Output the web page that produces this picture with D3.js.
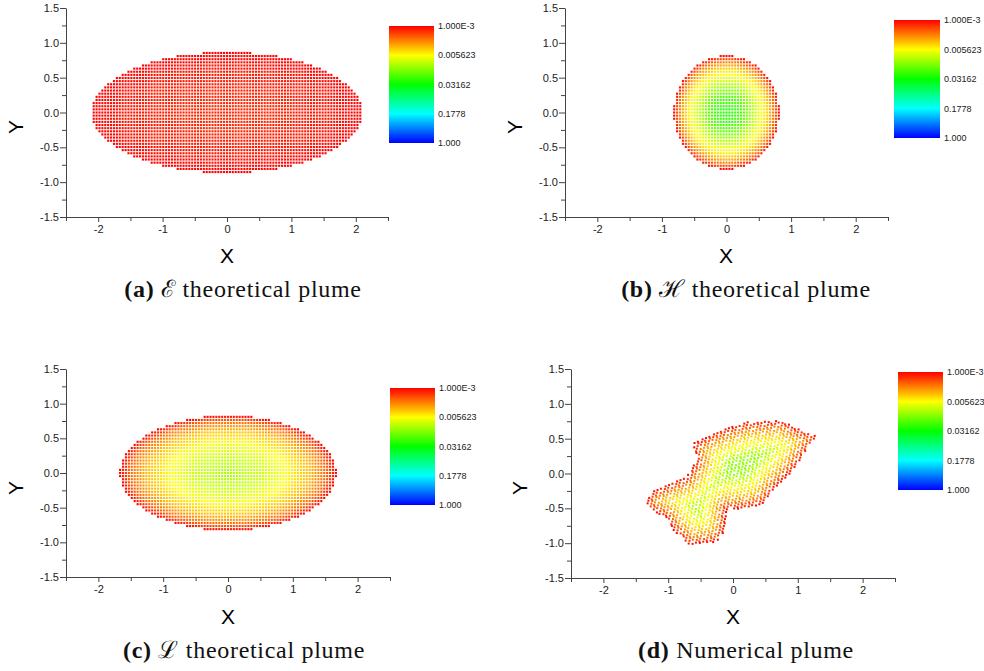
<!DOCTYPE html>
<meta charset="utf-8">
<style>
body { margin: 0; background: #fff; }
text { font-family: "Liberation Sans", Arial, sans-serif; }
.tick text { fill: #222; font-size: 11px; }
.domain, .tick line { stroke: #444; }
.caption { font-family: "Liberation Serif", "DejaVu Serif", serif; font-size: 24px; letter-spacing: 0.7px; fill: #111; }
</style>
<body>
<script src="https://cdn.jsdelivr.net/npm/d3@7"></script>
<script>

// axis ticks
var xTicks = [-2.5, -2, -1.5, -1, -0.5, 0, 0.5, 1, 1.5, 2, 2.5];
var yTicks = [-1.5, -1.25, -1, -0.75, -0.5, -0.25, 0, 0.25, 0.5, 0.75, 1, 1.25, 1.5];

// colour bar
var colorTicks = [0.001, 0.005623, 0.03162, 0.1778, 1];
var colorTickLabels = ["1.000E-3", "0.005623", "0.03162", "0.1778", "1.000"];
var colorStops = ["#ff0000", "#ffff00", "#00ff00", "#00ffff", "#0000ff"];

// theoretical plumes (a, b, c): ellipse semi axes and radial value profile
var ellipseRx = [2.1, 0.82, 1.67];
var ellipseRy = [0.87, 0.82, 0.83];
var gridStep = 0.045;
var radialLevels = [0, 0.3, 0.55, 0.75, 0.9, 1];
var plumeE = [0.0013, 0.0013, 0.0012, 0.00115, 0.00105, 0.001];
var plumeH = [0.028, 0.018, 0.008, 0.0045, 0.0022, 0.001];
var plumeL = [0.010, 0.008, 0.0055, 0.0035, 0.002, 0.001];

// numerical plume (d): outline and value against depth inside the outline
var numX = [-0.61, -0.20, 0.21, 0.78, 0.93, 1.30, 1.14, 0.93, 0.62, 0.47, 0.21, -0.10, -0.12, -0.25, -0.67, -0.92, -1.03, -1.34, -1.28, -0.98, -0.72, -0.56];
var numY = [0.43, 0.62, 0.74, 0.76, 0.67, 0.53, 0.34, 0.05, -0.24, -0.43, -0.50, -0.52, -0.81, -0.98, -1.03, -0.81, -0.64, -0.48, -0.28, -0.14, -0.05, 0.19];
var depthLevels = [0, 0.05, 0.12, 0.22, 0.35, 0.5];
var depthValues = [0.001, 0.0016, 0.0026, 0.0042, 0.0065, 0.012];

var panels = [
  {x0: 66, x1: 388, y0: 8, y1: 217, cb: [389, 434, 26, 143], yl: [16, 127], xl: [227, 263], cap: [243, 297], tag: "(a)", name: "\u2130 theoretical plume"},
  {x0: 565, x1: 888, y0: 8, y1: 217, cb: [894, 940, 20, 138], yl: [515, 127], xl: [726, 263], cap: [746, 297], tag: "(b)", name: "\u210B theoretical plume"},
  {x0: 66, x1: 390, y0: 369, y1: 577, cb: [390, 435, 388, 505], yl: [16, 488], xl: [228, 624], cap: [244, 658], tag: "(c)", name: "\u2112 theoretical plume"},
  {x0: 571, x1: 895, y0: 369, y1: 578, cb: [898, 943, 372, 490], yl: [520, 488], xl: [733, 624], cap: [746, 658], tag: "(d)", name: "Numerical plume"}
];

var color = d3.scaleLog().domain(colorTicks).range(colorStops).clamp(true);

var svg = d3.select("body").append("svg")
  .attr("width", 984)
  .attr("height", 671);

var defs = svg.append("defs");
var grad = defs.append("linearGradient")
  .attr("id", "rainbow")
  .attr("x1", 0).attr("y1", 0).attr("x2", 0).attr("y2", 1);
colorStops.forEach(function(c, i) {
  grad.append("stop").attr("offset", (i / (colorStops.length - 1)) * 100 + "%").attr("stop-color", c);
});

// points for the theoretical plumes
function ellipsePoints(rx, ry, profile) {
  var prof = d3.scaleLinear().domain(radialLevels).range(profile.map(Math.log));
  var pts = [];
  for (var j = -Math.ceil(ry / gridStep); j <= Math.ceil(ry / gridStep); j++) {
    for (var i = -Math.ceil(rx / gridStep); i <= Math.ceil(rx / gridStep); i++) {
      var x = i * gridStep, y = j * gridStep;
      var r = Math.sqrt((x / rx) * (x / rx) + (y / ry) * (y / ry));
      if (r <= 1) pts.push({x: x, y: y, v: Math.exp(prof(r))});
    }
  }
  return pts;
}

// distance from a point to the outline of the numerical plume
function edgeDist(px, py) {
  var best = Infinity;
  for (var k = 0; k < numX.length; k++) {
    var ax = numX[k], ay = numY[k];
    var bx = numX[(k + 1) % numX.length], by = numY[(k + 1) % numX.length];
    var dx = bx - ax, dy = by - ay;
    var t = Math.max(0, Math.min(1, ((px - ax) * dx + (py - ay) * dy) / (dx * dx + dy * dy)));
    var ex = ax + t * dx - px, ey = ay + t * dy - py;
    best = Math.min(best, Math.sqrt(ex * ex + ey * ey));
  }
  return best;
}

function numericalPoints() {
  var outline = numX.map(function(x, k) { return [x, numY[k]]; });
  var prof = d3.scaleLinear().domain(depthLevels).range(depthValues.map(Math.log)).clamp(true);
  var g = 1.32471795724, a1 = 1 / g, a2 = 1 / (g * g);
  var ext = [d3.extent(numX), d3.extent(numY)];
  var pts = [];
  for (var n = 0; n < 2300; n++) {
    var x = ext[0][0] + ((0.5 + a1 * n) % 1) * (ext[0][1] - ext[0][0]);
    var y = ext[1][0] + ((0.5 + a2 * n) % 1) * (ext[1][1] - ext[1][0]);
    if (d3.polygonContains(outline, [x, y])) {
      pts.push({x: x, y: y, v: Math.exp(prof(edgeDist(x, y)))});
    }
  }
  return pts;
}

var plumeData = [
  ellipsePoints(ellipseRx[0], ellipseRy[0], plumeE),
  ellipsePoints(ellipseRx[1], ellipseRy[1], plumeH),
  ellipsePoints(ellipseRx[2], ellipseRy[2], plumeL),
  numericalPoints()
];

panels.forEach(function(p, idx) {
  var x = d3.scaleLinear().domain([-2.5, 2.5]).range([p.x0, p.x1]);
  var y = d3.scaleLinear().domain([-1.5, 1.5]).range([p.y1, p.y0]);
  var g = svg.append("g");

  // dots
  var s = idx === 3 ? 2 : 2.1;
  g.append("g").selectAll("rect")
    .data(plumeData[idx])
    .enter().append("rect")
      .attr("x", function(d) { return x(d.x) - s / 2; })
      .attr("y", function(d) { return y(d.y) - s / 2; })
      .attr("width", s)
      .attr("height", s)
      .attr("fill", function(d) { return color(d.v); });

  // axes
  var xa = g.append("g")
    .attr("transform", "translate(0," + p.y1 + ")")
    .call(d3.axisBottom(x).tickValues(xTicks).tickSizeOuter(0)
      .tickFormat(function(d) { return (d % 1 === 0) ? d3.format("d")(d).replace("−", "-") : ""; }));
  xa.selectAll(".tick line").attr("y2", function(d) { return d % 1 === 0 ? 5 : 4; });
  xa.selectAll(".tick text").attr("y", 8);
  xa.selectAll(".tick").filter(function(d) { return Math.abs(d) === 2.5; }).select("line").attr("y2", 4);

  var ya = g.append("g")
    .attr("transform", "translate(" + p.x0 + ",0)")
    .call(d3.axisLeft(y).tickValues(yTicks).tickSizeOuter(0)
      .tickFormat(function(d) { return (d * 2) % 1 === 0 ? d3.format(".1f")(d).replace("−", "-") : ""; }));
  ya.selectAll(".tick line").attr("x2", function(d) { return (d * 2) % 1 === 0 ? -6 : -4; });
  ya.selectAll(".tick text").attr("x", -7);

  // axis titles
  g.append("text")
    .attr("x", p.xl[0]).attr("y", p.xl[1])
    .attr("text-anchor", "middle")
    .style("font-size", "21px")
    .text("X");
  g.append("text")
    .attr("transform", "translate(" + (p.yl[0] + 7) + "," + p.yl[1] + ") rotate(-90)")
    .attr("text-anchor", "middle")
    .style("font-size", "21px")
    .text("Y");

  // colour bar
  g.append("rect")
    .attr("x", p.cb[0]).attr("y", p.cb[2])
    .attr("width", p.cb[1] - p.cb[0]).attr("height", p.cb[3] - p.cb[2])
    .attr("fill", "url(#rainbow)");
  var cy = d3.scaleLog().domain([colorTicks[0], colorTicks[4]]).range([p.cb[2], p.cb[3]]);
  g.append("g").selectAll("text")
    .data(colorTicks)
    .enter().append("text")
      .attr("x", p.cb[1] + 4)
      .attr("y", function(d) { return cy(d); })
      .attr("dy", "0.35em")
      .style("font-size", "9px")
      .style("fill", "#222")
      .text(function(d, i) { return colorTickLabels[i]; });

  // caption
  var cap = g.append("text")
    .attr("class", "caption")
    .attr("x", p.cap[0]).attr("y", p.cap[1])
    .attr("text-anchor", "middle");
  cap.append("tspan").style("font-weight", "bold").text(p.tag);
  cap.append("tspan").text(" " + p.name);
});

</script>
</body>
